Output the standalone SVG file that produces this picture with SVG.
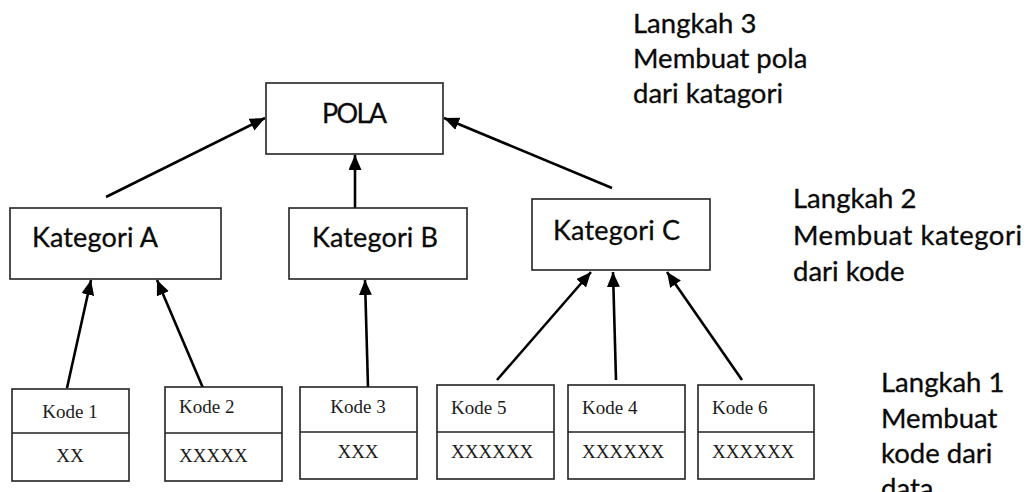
<svg xmlns="http://www.w3.org/2000/svg" width="1028" height="492" viewBox="0 0 1028 492">
<style>
.box{fill:#fff;stroke:#222;stroke-width:1.6}
.lbl{font-family:Lato,"Noto Sans","Liberation Sans",sans-serif;font-size:27px;fill:#0a0a0a;stroke:#0a0a0a;stroke-width:0.3}
.step{font-family:Lato,"Noto Sans","Liberation Sans",sans-serif;font-size:27.5px;fill:#0a0a0a;stroke:#0a0a0a;stroke-width:0.3}
.code{font-family:"Liberation Serif","DejaVu Serif",serif;font-size:19px;fill:#1a1a1a}
.edge{stroke:#000;stroke-width:2.6;fill:none;marker-end:url(#ah)}
</style>
<defs>
<marker id="ah" markerUnits="userSpaceOnUse" markerWidth="16" markerHeight="14" refX="15" refY="6.5" orient="auto">
<path d="M0,0 L15,6.5 L0,13 z" fill="#000"/>
</marker>
</defs>
<rect width="1028" height="492" fill="#fff"/>
<g id="connectors">
<line class="edge" x1="106" y1="197" x2="265" y2="118"/>
<line class="edge" x1="355" y1="208" x2="355" y2="155"/>
<line class="edge" x1="612" y1="188" x2="444" y2="118"/>
<line class="edge" x1="67" y1="388" x2="91" y2="280"/>
<line class="edge" x1="203" y1="388" x2="157" y2="280"/>
<line class="edge" x1="368" y1="387" x2="365" y2="280"/>
<line class="edge" x1="497" y1="380" x2="591" y2="272"/>
<line class="edge" x1="616" y1="380" x2="613" y2="272"/>
<line class="edge" x1="742" y1="380" x2="667" y2="272"/>
</g>
<g id="pola">
<rect class="box" x="266" y="83" width="177" height="71"/>
<text class="lbl" x="322" y="123" textLength="65">POLA</text>
</g>
<g id="kategori-a">
<rect class="box" x="10" y="208" width="211" height="71"/>
<text class="lbl" x="32" y="247" textLength="126">Kategori A</text>
</g>
<g id="kategori-b">
<rect class="box" x="289" y="208" width="178" height="71"/>
<text class="lbl" x="312" y="247" textLength="126">Kategori B</text>
</g>
<g id="kategori-c">
<rect class="box" x="532" y="199" width="178" height="71"/>
<text class="lbl" x="553" y="240" textLength="127">Kategori C</text>
</g>
<g id="kode-1">
<rect class="box" x="12" y="389" width="117" height="92"/>
<line class="box" x1="12" y1="433" x2="129" y2="433"/>
<text class="code" x="70" y="418" text-anchor="middle">Kode 1</text>
<text class="code" x="70" y="462" text-anchor="middle">XX</text>
</g>
<g id="kode-2">
<rect class="box" x="165" y="387" width="117" height="94"/>
<line class="box" x1="165" y1="433" x2="282" y2="433"/>
<text class="code" x="179" y="413">Kode 2</text>
<text class="code" x="179" y="462">XXXXX</text>
</g>
<g id="kode-3">
<rect class="box" x="300" y="387" width="117" height="92"/>
<line class="box" x1="300" y1="432" x2="417" y2="432"/>
<text class="code" x="358" y="413" text-anchor="middle">Kode 3</text>
<text class="code" x="358" y="458" text-anchor="middle">XXX</text>
</g>
<g id="kode-5">
<rect class="box" x="437" y="385" width="117" height="94"/>
<line class="box" x1="437" y1="432" x2="554" y2="432"/>
<text class="code" x="451" y="414">Kode 5</text>
<text class="code" x="451" y="458">XXXXXX</text>
</g>
<g id="kode-4">
<rect class="box" x="568" y="385" width="117" height="94"/>
<line class="box" x1="568" y1="432" x2="685" y2="432"/>
<text class="code" x="582" y="414">Kode 4</text>
<text class="code" x="582" y="458">XXXXXX</text>
</g>
<g id="kode-6">
<rect class="box" x="698" y="385" width="116" height="94"/>
<line class="box" x1="698" y1="432" x2="814" y2="432"/>
<text class="code" x="712" y="414">Kode 6</text>
<text class="code" x="712" y="458">XXXXXX</text>
</g>
<g id="langkah-3">
<text class="step" x="633" y="33">Langkah 3</text>
<text class="step" x="633" y="68">Membuat pola</text>
<text class="step" x="633" y="103">dari katagori</text>
</g>
<g id="langkah-2">
<text class="step" x="793" y="208">Langkah 2</text>
<text class="step" x="793" y="245" textLength="229">Membuat kategori</text>
<text class="step" x="793" y="281">dari kode</text>
</g>
<g id="langkah-1">
<text class="step" x="881" y="392">Langkah 1</text>
<text class="step" x="881" y="428">Membuat</text>
<text class="step" x="881" y="463">kode dari</text>
<text class="step" x="881" y="498">data</text>
</g>
</svg>
